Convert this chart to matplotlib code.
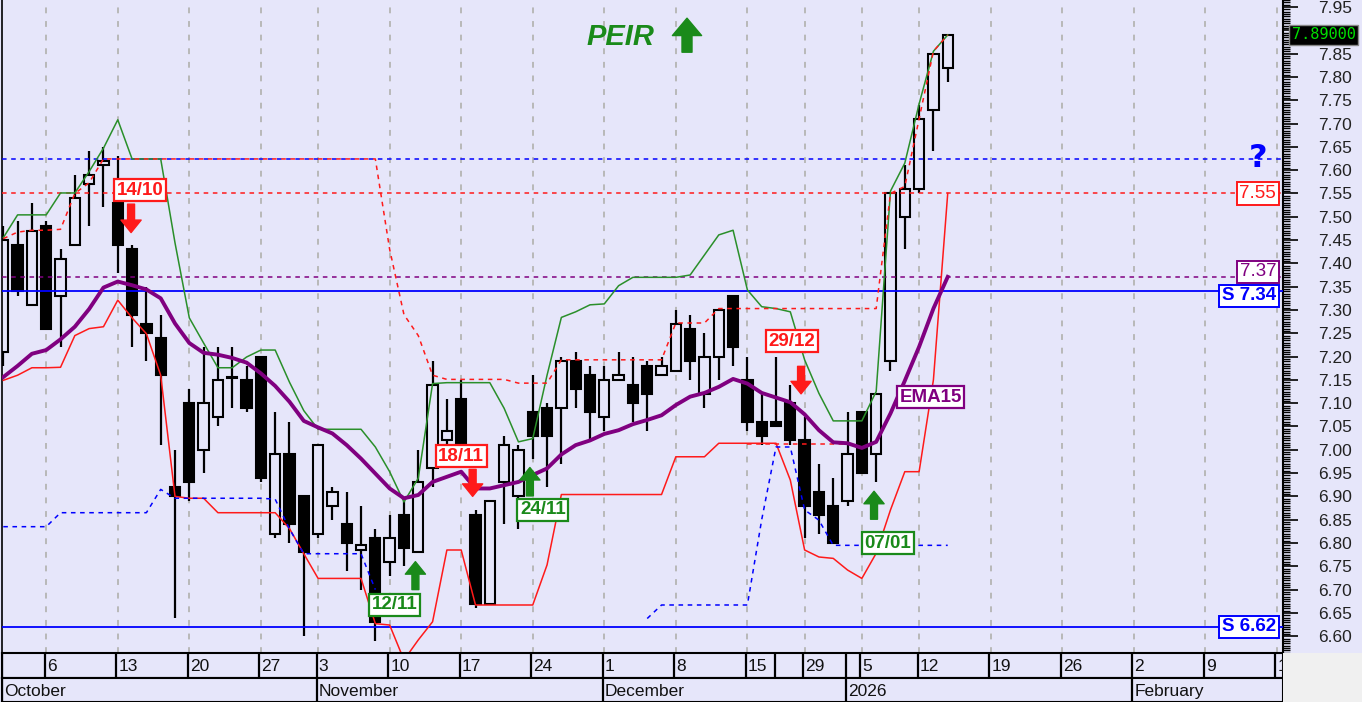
import numpy as np
import matplotlib
matplotlib.use('Agg')
import matplotlib.pyplot as plt
from matplotlib.patches import Rectangle
from matplotlib.ticker import MultipleLocator, FixedLocator, FuncFormatter
import matplotlib.transforms as mtransforms

plt.rcParams['font.family'] = ['Liberation Sans', 'DejaVu Sans']

# ---------------- data (trading-day index 0 = 1 Oct 2025) ----------------
opens = [7.21, 7.44, 7.31, 7.48, 7.33, 7.44, 7.57, 7.61, 7.53, 7.43,
         7.27, 7.24, 6.92, 7.10, 7.00, 7.07, 7.155, 7.15, 7.20, 6.82,
         6.99, 6.90, 6.82, 6.88, 6.84, 6.785, 6.81, 6.76, 6.86, 6.78,
         6.96, 7.02, 7.11, 6.86, 6.67, 6.93, 6.90, 7.08, 7.09, 7.09,
         7.19, 7.16, 7.07, 7.15, 7.14, 7.18, 7.16, 7.17, 7.26, 7.12,
         7.20, 7.33, 7.15, 7.06, 7.06, 7.10, 7.02, 6.91, 6.88, 6.89,
         7.08, 6.99, 7.19, 7.50, 7.56, 7.73, 7.82]
highs = [7.48, 7.49, 7.53, 7.49, 7.43, 7.59, 7.64, 7.65, 7.63, 7.44,
         7.35, 7.29, 7.00, 7.13, 7.22, 7.22, 7.22, 7.18, 7.20, 7.08,
         7.06, 6.90, 7.01, 6.92, 6.91, 6.88, 6.83, 6.86, 6.89, 7.00,
         7.19, 7.11, 7.15, 6.87, 6.89, 7.03, 7.01, 7.16, 7.10, 7.20,
         7.21, 7.18, 7.18, 7.21, 7.20, 7.19, 7.20, 7.30, 7.29, 7.25,
         7.30, 7.33, 7.20, 7.12, 7.20, 7.14, 7.07, 6.97, 6.94, 7.08,
         7.08, 7.12, 7.55, 7.61, 7.74, 7.85, 7.89]
lows = [7.18, 7.33, 7.31, 7.26, 7.22, 7.44, 7.48, 7.52, 7.38, 7.22,
        7.19, 7.01, 6.64, 6.89, 6.95, 7.05, 7.09, 7.08, 6.93, 6.81,
        6.80, 6.60, 6.81, 6.85, 6.74, 6.70, 6.59, 6.73, 6.75, 6.78,
        6.92, 6.96, 7.01, 6.66, 6.67, 6.84, 6.83, 6.98, 6.92, 6.97,
        7.09, 7.02, 7.04, 7.15, 7.06, 7.04, 7.16, 7.17, 7.15, 7.09,
        7.15, 7.18, 7.04, 7.01, 7.05, 7.01, 6.81, 6.82, 6.80, 6.88,
        6.95, 6.93, 7.17, 7.43, 7.55, 7.64, 7.79]
closes = [7.45, 7.34, 7.47, 7.26, 7.41, 7.54, 7.59, 7.62, 7.44, 7.29,
          7.25, 7.16, 6.90, 6.93, 7.10, 7.15, 7.157, 7.09, 6.94, 6.99,
          6.84, 6.78, 7.01, 6.91, 6.80, 6.795, 6.63, 6.81, 6.79, 6.93,
          7.14, 7.04, 7.01, 6.67, 6.89, 7.01, 7.00, 7.03, 7.03, 7.19,
          7.13, 7.08, 7.15, 7.16, 7.10, 7.12, 7.18, 7.27, 7.19, 7.20,
          7.30, 7.22, 7.06, 7.03, 7.05, 7.02, 6.88, 6.86, 6.80, 6.99,
          6.95, 7.12, 7.55, 7.56, 7.71, 7.85, 7.89]
ema15 = [7.156, 7.180, 7.206, 7.214, 7.237, 7.264, 7.302, 7.348, 7.361, 7.353,
         7.344, 7.325, 7.271, 7.229, 7.208, 7.204, 7.197, 7.187, 7.164, 7.137,
         7.103, 7.062, 7.048, 7.035, 7.010, 6.981, 6.949, 6.917, 6.896, 6.903,
         6.931, 6.942, 6.953, 6.917, 6.917, 6.924, 6.931, 6.946, 6.960, 6.990,
         7.010, 7.020, 7.034, 7.042, 7.055, 7.064, 7.074, 7.096, 7.114, 7.122,
         7.135, 7.152, 7.142, 7.122, 7.112, 7.102, 7.076, 7.042, 7.016, 7.014,
         7.004, 7.017, 7.078, 7.148, 7.221, 7.303, 7.371]
upper_band = [7.455, 7.504, 7.504, 7.504, 7.551, 7.551, 7.597, 7.647, 7.708, 7.624,
              7.624, 7.624, 7.444, 7.283, 7.229, 7.176, 7.176, 7.199, 7.214, 7.214,
              7.145, 7.084, 7.044, 7.044, 7.044, 7.044, 7.006, 6.953, 6.888, 6.939,
              7.142, 7.144, 7.144, 7.144, 7.144, 7.089, 7.017, 7.024, 7.160, 7.284,
              7.296, 7.311, 7.313, 7.352, 7.370, 7.370, 7.370, 7.370, 7.375, 7.418,
              7.461, 7.471, 7.343, 7.307, 7.303, 7.296, 7.193, 7.121, 7.062, 7.062,
              7.062, 7.125, 7.555, 7.615, 7.742, 7.855, 7.890]
lower_band = [7.149, 7.160, 7.176, 7.176, 7.177, 7.245, 7.260, 7.264, 7.321, 7.283,
              7.249, 7.160, 6.900, 6.896, 6.896, 6.865, 6.865, 6.865, 6.865, 6.865,
              6.831, 6.777, 6.724, 6.724, 6.724, 6.724, 6.627, 6.624, 6.549, 6.592,
              6.631, 6.785, 6.785, 6.667, 6.667, 6.667, 6.667, 6.667, 6.753, 6.904,
              6.904, 6.904, 6.904, 6.904, 6.904, 6.904, 6.904, 6.985, 6.985, 6.985,
              7.014, 7.014, 7.014, 7.014, 7.014, 6.935, 6.785, 6.770, 6.767, 6.742,
              6.724, 6.778, 6.871, 6.953, 6.953, 7.150, 7.550]
nan = np.nan
stop_high = [7.453, 7.467, 7.471, 7.471, 7.473, 7.550, 7.573, 7.624, 7.624, 7.624,
             7.624, 7.624, 7.624, 7.624, 7.624, 7.624, 7.624, 7.624, 7.624, 7.624,
             7.624, 7.624, 7.624, 7.624, 7.624, 7.624, 7.624, 7.430, 7.290, 7.245,
             7.160, 7.151, 7.151, 7.151, 7.151, 7.151, 7.143, 7.143, 7.143, 7.193,
             7.193, 7.193, 7.193, 7.193, 7.193, 7.193, 7.193, 7.272, 7.272, 7.272,
             7.303, 7.303, 7.303, 7.303, 7.303, 7.303, 7.303, 7.303, 7.303, 7.303,
             7.303, 7.303, 7.550, 7.565, 7.710, 7.855, 7.890]
stop_high2 = [nan] * 52 + [7.012] * 8 + [nan] * 7
stop_low = [6.835, 6.835, 6.835, 6.835, 6.865, 6.865, 6.865, 6.865, 6.865, 6.865,
            6.865, 6.915, 6.896, 6.896, 6.896, 6.896, 6.896, 6.896, 6.896, 6.894,
            6.830, 6.777, 6.777, 6.777, 6.777, 6.777, 6.700, nan, nan, nan,
            nan, nan, nan, nan, nan, nan, nan, nan, nan, nan,
            nan, nan, nan, nan, nan, 6.638, 6.667, 6.667, 6.667, 6.667,
            6.667, 6.667, 6.667, 6.850, 7.006, 7.006, 6.871, 6.849, 6.795, 6.795,
            6.795, 6.795, 6.795, 6.795, 6.795, 6.795, 6.795]

level_question = 7.624
level_red = 7.55
level_purple = 7.37
support_levels = [7.34, 6.62]

signal_labels = ['14/10', '18/11', '12/11', '24/11', '29/12', '07/01']
signal_index = [9, 33, 29, 37, 56, 61]
signal_dir = ['down', 'down', 'up', 'up', 'down', 'up']

week_pos = [0, 3, 8, 13, 18, 22, 27, 32, 37, 42, 47, 52, 54, 56, 59, 60, 64, 69, 74, 79, 84, 89]
week_labels = ['', '6', '13', '20', '27', '3', '10', '17', '24', '1', '8', '15', '', '29', '', '5',
               '12', '19', '26', '2', '9', '1']
grid_pos = [3, 8, 13, 18, 22, 27, 32, 37, 42, 47, 52, 56, 60, 64, 69, 74, 79, 84, 89]
month_pos = [0, 22, 42, 59, 79]
month_labels = ['October', 'November', 'December', '2026', 'February']

# ---------------- style / layout ----------------
BG = '#e6e6fa'
RED = '#ff1a1a'
GREEN = '#1a8a1a'
PURPLE = '#800080'
BLUE = '#0000ff'

W, H = 1362, 702
XL, XR = -0.09, 89.43
YB, YT = 6.564, 7.965

# label layout: (box x offset from signal bar, box y, arrow x offset, arrow tail y, arrow tip y)
sig_layout = {
    '14/10': (0.55, 7.557, -0.07, 7.527, 7.466),
    '18/11': (-1.0, 6.986, -0.2, 6.958, 6.900),
    '12/11': (-1.63, 6.667, -0.2, 6.700, 6.760),
    '24/11': (0.71, 6.871, -0.2, 6.901, 6.962),
    '29/12': (-0.9, 7.233, -0.25, 7.179, 7.120),
    '07/01': (0.8, 6.800, -0.15, 6.851, 6.911),
}


def rect(l, t, r, b):
    return [l / W, 1 - b / H, (r - l) / W, (b - t) / H]


fig = plt.figure(figsize=(W / 100, H / 100), dpi=100)
fig.patch.set_facecolor(BG)
fig.patches.append(Rectangle((1283 / W, 0), (W - 1283) / W, 49 / H,
                             transform=fig.transFigure, fc='#f0f0f0', ec='none', zorder=0))

ax = fig.add_axes(rect(2, 0, 1283, 653))
ax.set_facecolor(BG)
ax.set_xlim(XL, XR)
ax.set_ylim(YB, YT)

# grid
for g in grid_pos:
    ax.axvline(g, color='#b8b8b8', lw=1.4, ls=(0, (3, 4)), zorder=1)

# horizontal levels
ax.axhline(level_question, color=BLUE, lw=1.1, ls=(0, (3, 3)), zorder=3)
ax.axhline(level_red, color=RED, lw=1.1, ls=(0, (3, 3)), zorder=3)
ax.axhline(level_purple, color=PURPLE, lw=1.1, ls=(0, (3, 3)), zorder=3)
for s in support_levels:
    ax.axhline(s, color=BLUE, lw=1.3, zorder=3)

# candles
n = len(closes)
xs = np.arange(n)
for i in range(n):
    o, h, l, c = opens[i], highs[i], lows[i], closes[i]
    ax.vlines(i, l, h, color='black', lw=1.6, zorder=2)
    fc = BG if c >= o else 'black'
    bottom = min(o, c)
    height = max(abs(c - o), 0.0015)
    ax.add_patch(Rectangle((i - 0.36, bottom), 0.72, height, fc=fc, ec='black',
                           lw=1.5, zorder=2.5))

# indicator lines
ax.plot(xs, upper_band, color='#2a8f2a', lw=1.1, zorder=4)
ax.plot(xs, lower_band, color=RED, lw=1.1, zorder=4)
ax.plot(xs, stop_high, color=RED, lw=1.1, ls=(0, (3, 3)), zorder=4)
ax.plot(xs, stop_high2, color=RED, lw=1.1, ls=(0, (3, 3)), zorder=4)
ax.plot(xs, stop_low, color=BLUE, lw=1.1, ls=(0, (3, 3)), zorder=4)
ax.plot(xs, ema15, color=PURPLE, lw=2.8, zorder=5)

ARROW = 'simple,head_length=0.9,head_width=1.45,tail_width=0.5'

# signal boxes + arrows
for lab, idx, d in zip(signal_labels, signal_index, signal_dir):
    col = RED if d == 'down' else GREEN
    bdx, by, adx, tail, tip = sig_layout[lab]
    ax.text(idx + bdx, by, lab, color=col, fontsize=13.5, fontweight='bold', ha='center',
            va='center', zorder=8,
            bbox=dict(boxstyle='square,pad=0.14', fc='white', ec=col, lw=1.6))
    ax.annotate('', xy=(idx + adx, tip), xytext=(idx + adx, tail), zorder=8,
                arrowprops=dict(arrowstyle=ARROW, mutation_scale=10, color=col,
                                shrinkA=0, shrinkB=0))

# EMA15 label
ax.text(64.8, 7.113, 'EMA15', color=PURPLE, fontsize=13.5, fontweight='bold', ha='center',
        va='center', zorder=8, bbox=dict(boxstyle='square,pad=0.14', fc='white', ec=PURPLE, lw=1.6))

# title
ax.text(43.15, 7.886, 'PEIR', color=GREEN, fontsize=21, fontweight='bold', fontstyle='italic',
        ha='center', va='center', zorder=8)
ax.annotate('', xy=(47.78, 7.926), xytext=(47.78, 7.853), zorder=8,
            arrowprops=dict(arrowstyle='simple,head_length=1.25,head_width=2.1,tail_width=0.72',
                            mutation_scale=10, color=GREEN, shrinkA=0, shrinkB=0))

# right labels
ax.text(87.7, level_question, '?', color=BLUE, fontsize=23, fontweight='bold', ha='center',
        va='center', zorder=8, family=['DejaVu Sans'])
xr = 88.95
ax.text(xr, level_red, f'{level_red:.2f}', color=RED, fontsize=13.5, ha='right', va='center',
        zorder=8, bbox=dict(boxstyle='square,pad=0.14', fc='white', ec=RED, lw=1.4))
ax.text(xr, level_purple + 0.012, f'{level_purple:.2f}', color=PURPLE, fontsize=13.5, ha='right',
        va='center', zorder=8, bbox=dict(boxstyle='square,pad=0.14', fc='white', ec=PURPLE, lw=1.4))
for s in support_levels:
    ax.text(xr, s - 0.01 if s > 7 else s, f'S {s:.2f}', color=BLUE, fontsize=13.5,
            fontweight='bold', ha='right', va='center', zorder=8,
            bbox=dict(boxstyle='square,pad=0.14', fc='white', ec=BLUE, lw=1.4))

# last price tag (covers the 7.90 tick label as in the original)
trans = mtransforms.blended_transform_factory(fig.transFigure, ax.transData)
fig.text(1323.5 / W, closes[-1], f'{closes[-1]:.5f}', transform=trans, color='#00e000',
         fontsize=11, family='DejaVu Sans Mono', ha='center', va='center',
         bbox=dict(boxstyle='square,pad=0.18', fc='black', ec='#888888', lw=1))

# axes styling
hidden_tick = round(closes[-1], 1)


def fmt(v, pos):
    if abs(v - hidden_tick) < 1e-6:
        return ''
    return f'{v:.2f}'


ax.set_xticks([])
ax.yaxis.tick_right()
ax.yaxis.set_major_locator(FixedLocator(np.round(np.arange(6.60, 7.951, 0.05), 2)))
ax.yaxis.set_minor_locator(MultipleLocator(0.005))
ax.yaxis.set_major_formatter(FuncFormatter(fmt))
ax.tick_params(axis='y', which='major', length=11, width=1.2, pad=14, labelsize=12.5,
               labelcolor='#222222', color='black')
ax.tick_params(axis='y', which='minor', length=5, width=1.0, color='black')
ax.spines['top'].set_visible(False)
ax.spines['right'].set_linewidth(1.5)
ax.spines['left'].set_linewidth(1.2)
ax.spines['bottom'].set_linewidth(1.2)

# date strips
axw = fig.add_axes(rect(2, 653, 1283, 678))
axm = fig.add_axes(rect(2, 678, 1283, 702))
for a in (axw, axm):
    a.set_facecolor(BG)
    a.set_xlim(XL, XR)
    a.set_ylim(0, 1)
    a.set_xticks([])
    a.set_yticks([])
    for sp in a.spines.values():
        sp.set_linewidth(1.5)
        sp.set_color('black')
for p, lab in zip(week_pos, week_labels):
    axw.axvline(p - 0.1, color='black', lw=1.6)
    axw.text(p + 0.05, 0.45, lab, fontsize=12.5, ha='left', va='center', color='#111111')
for p, lab in zip(month_pos, month_labels):
    axm.axvline(p - 0.1, color='black', lw=1.6)
    axm.text(p + 0.05, 0.45, lab, fontsize=12.5, ha='left', va='center', color='#111111')

fig.savefig('out.png', dpi=100, facecolor=BG)
